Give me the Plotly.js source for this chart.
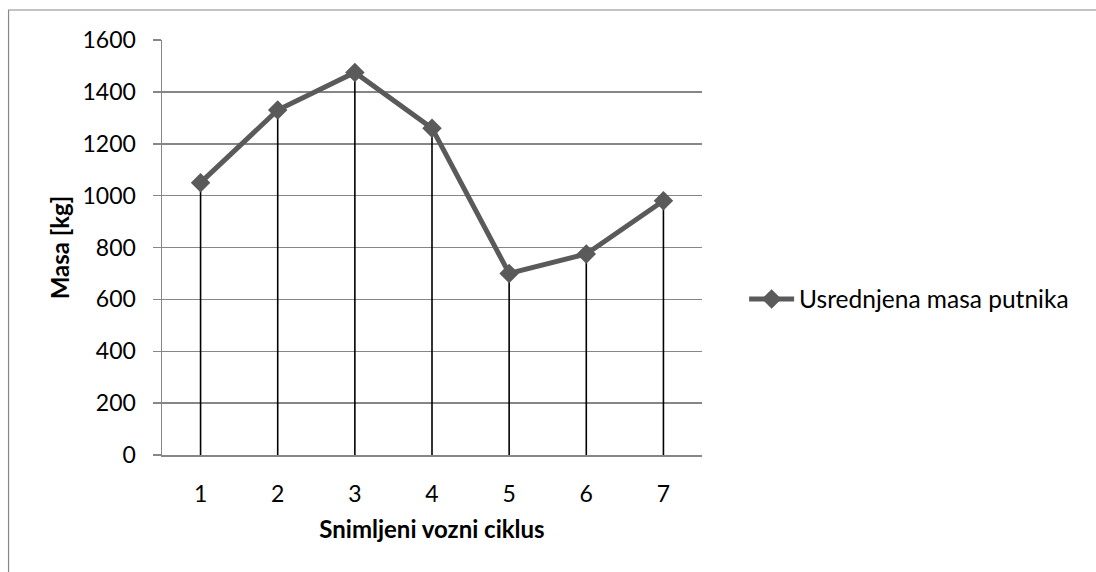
<!DOCTYPE html>
<html>
<head>
<meta charset="utf-8">
<script src="https://cdn.plot.ly/plotly-3.0.1.min.js"></script>
<style>
html,body{margin:0;padding:0;background:#fff;}
#chart{width:1096px;height:572px;}
</style>
</head>
<body>
<div id="chart"></div>
<script>
var cycles = [1, 2, 3, 4, 5, 6, 7];
var masses = [1050, 1330, 1475, 1260, 700, 775, 980];
var yTicks = [0, 200, 400, 600, 800, 1000, 1200, 1400, 1600];
var seriesName = "Usrednjena masa putnika";

// drop lines from each point to the axis, built from the data arrays
var dropX = [], dropY = [];
for (var i = 0; i < cycles.length; i++) {
  dropX.push(cycles[i], cycles[i], null);
  dropY.push(0, masses[i], null);
}

var FONT = "Lato, 'Open Sans', sans-serif";

var traces = [
  {
    x: dropX, y: dropY, mode: "lines", type: "scatter",
    line: {color: "#000000", width: 1.6},
    showlegend: false, hoverinfo: "skip"
  },
  {
    x: cycles, y: masses, mode: "lines+markers", type: "scatter",
    name: seriesName,
    line: {color: "#5a5a5a", width: 5},
    marker: {symbol: "diamond", size: 15, color: "#5a5a5a"}
  }
];

var layout = {
  width: 1096, height: 572,
  paper_bgcolor: "#ffffff", plot_bgcolor: "#ffffff",
  margin: {l: 161.5, r: 394.3, t: 40, b: 117},
  font: {family: FONT, size: 23, color: "#000000"},
  showlegend: true,
  legend: {
    x: 1.078, xanchor: "left", y: 0.376, yanchor: "middle",
    itemwidth: 45,
    bgcolor: "rgba(0,0,0,0)", borderwidth: 0,
    font: {family: FONT, size: 24.5, color: "#000000"}
  },
  xaxis: {
    range: [0.5, 7.5],
    tickvals: cycles,
    ticktext: cycles.map(String),
    showgrid: false, zeroline: false,
    showline: true, linecolor: "#868686", linewidth: 1.5,
    ticks: "", ticklabelstandoff: 18,
    tickfont: {family: FONT, size: 23},
    title: {text: "<b>Snimljeni vozni ciklus</b>", font: {family: FONT, size: 24}, standoff: 15}
  },
  yaxis: {
    range: [0, 1600],
    tickvals: yTicks,
    showgrid: true, gridcolor: "#868686", gridwidth: 1.5,
    zeroline: false,
    showline: true, linecolor: "#868686", linewidth: 1.5,
    ticks: "outside", ticklen: 8, tickcolor: "#868686", tickwidth: 1.5,
    ticklabelstandoff: 12,
    tickfont: {family: FONT, size: 23},
    title: {text: "<b>Masa [kg]</b>", font: {family: FONT, size: 24}, standoff: 6}
  },
  shapes: [
    {type: "rect", xref: "paper", yref: "paper",
     x0: (8 - 161.5) / 540.2, x1: (1100 - 161.5) / 540.2,
     y0: (455 - 576) / 415, y1: (455 - 10) / 415,
     line: {color: "#888888", width: 1.2}, fillcolor: "rgba(0,0,0,0)", layer: "below"}
  ]
};

Plotly.newPlot("chart", traces, layout, {displayModeBar: false, staticPlot: true});
</script>
</body>
</html>
